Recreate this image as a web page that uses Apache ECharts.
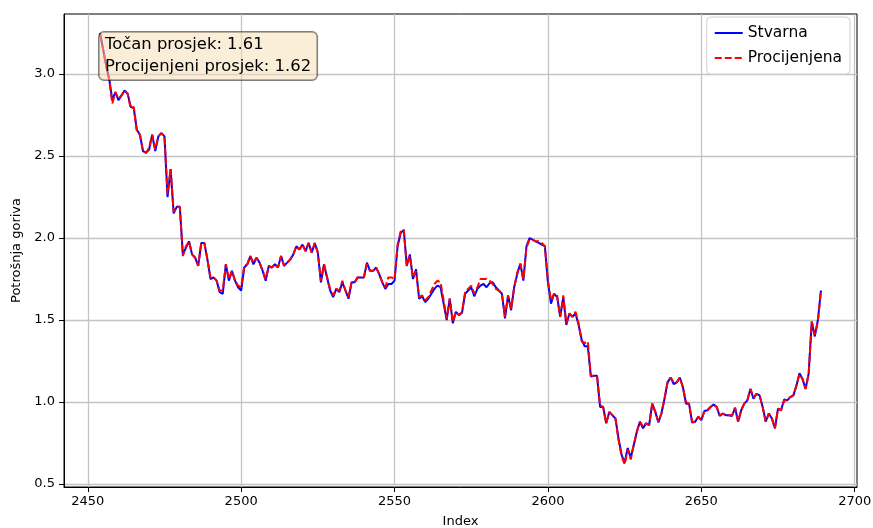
<!DOCTYPE html>
<html>
<head>
<meta charset="utf-8">
<script src="https://cdn.jsdelivr.net/npm/echarts@6/dist/echarts.min.js"></script>
<style>
html,body{margin:0;padding:0;background:#fff;}
#c{width:873px;height:528px;}
</style>
</head>
<body>
<div id="c"></div>
<script>
const startIndex = 2454;
const actual = [
3.25, 3.15, 3.05, 2.97, 2.84, 2.89, 2.84, 2.87, 2.90, 2.88,
2.80, 2.79, 2.66, 2.63, 2.53, 2.52, 2.54, 2.63, 2.53, 2.62,
2.64, 2.62, 2.25, 2.42, 2.15, 2.19, 2.19, 1.90, 1.94, 1.98,
1.90, 1.88, 1.83, 1.97, 1.97, 1.87, 1.75, 1.76, 1.74, 1.67,
1.66, 1.84, 1.74, 1.80, 1.74, 1.70, 1.68, 1.82, 1.84, 1.89,
1.84, 1.88, 1.85, 1.80, 1.74, 1.83, 1.82, 1.84, 1.82, 1.89,
1.83, 1.85, 1.87, 1.90, 1.95, 1.93, 1.96, 1.92, 1.97, 1.91,
1.97, 1.91, 1.73, 1.84, 1.76, 1.68, 1.64, 1.69, 1.67, 1.73,
1.68, 1.63, 1.73, 1.73, 1.76, 1.76, 1.76, 1.85, 1.80, 1.80,
1.82, 1.78, 1.73, 1.69, 1.72, 1.72, 1.74, 1.95, 2.03, 2.05,
1.83, 1.90, 1.75, 1.81, 1.63, 1.645, 1.61, 1.63, 1.66, 1.69,
1.71, 1.70, 1.60, 1.50, 1.63, 1.48, 1.55, 1.53, 1.545, 1.66,
1.68, 1.70, 1.645, 1.69, 1.71, 1.72, 1.70, 1.725, 1.73, 1.70,
1.68, 1.66, 1.51, 1.65, 1.56, 1.70, 1.78, 1.845, 1.74, 1.95,
2.00, 1.99, 1.98, 1.97, 1.96, 1.95, 1.73, 1.60, 1.66, 1.64,
1.52, 1.64, 1.47, 1.54, 1.52, 1.54, 1.47, 1.38, 1.34, 1.34,
1.155, 1.16, 1.16, 0.97, 0.97, 0.87, 0.94, 0.92, 0.90, 0.78,
0.68, 0.63, 0.72, 0.66, 0.74, 0.82, 0.88, 0.84, 0.87, 0.86,
0.99, 0.94, 0.875, 0.93, 1.02, 1.12, 1.15, 1.11, 1.12, 1.15,
1.09, 0.99, 0.99, 0.875, 0.88, 0.91, 0.89, 0.945, 0.95, 0.97,
0.985, 0.97, 0.915, 0.93, 0.92, 0.92, 0.915, 0.965, 0.88, 0.95,
0.99, 1.01, 1.08, 1.02, 1.05, 1.04, 0.97, 0.88, 0.93, 0.90,
0.84, 0.96, 0.95, 1.015, 1.01, 1.03, 1.04, 1.10, 1.175, 1.14,
1.08, 1.175, 1.49, 1.40, 1.50, 1.68
];
const predicted = [
3.24, 3.15, 3.05, 2.96, 2.82, 2.89, 2.85, 2.87, 2.90, 2.88,
2.79, 2.80, 2.65, 2.63, 2.53, 2.52, 2.55, 2.63, 2.54, 2.62,
2.64, 2.62, 2.27, 2.42, 2.16, 2.19, 2.19, 1.89, 1.95, 1.98,
1.90, 1.88, 1.83, 1.97, 1.97, 1.87, 1.76, 1.76, 1.74, 1.68,
1.68, 1.84, 1.75, 1.80, 1.74, 1.71, 1.70, 1.83, 1.84, 1.89,
1.85, 1.88, 1.85, 1.80, 1.75, 1.83, 1.82, 1.84, 1.82, 1.89,
1.83, 1.85, 1.87, 1.90, 1.95, 1.93, 1.96, 1.92, 1.97, 1.91,
1.97, 1.91, 1.74, 1.84, 1.76, 1.69, 1.65, 1.69, 1.68, 1.74,
1.68, 1.64, 1.73, 1.73, 1.76, 1.76, 1.76, 1.84, 1.80, 1.80,
1.82, 1.78, 1.73, 1.70, 1.76, 1.76, 1.75, 1.96, 2.04, 2.05,
1.83, 1.89, 1.76, 1.80, 1.64, 1.65, 1.62, 1.64, 1.68, 1.72,
1.74, 1.73, 1.62, 1.51, 1.63, 1.49, 1.55, 1.53, 1.55, 1.67,
1.69, 1.71, 1.66, 1.70, 1.75, 1.75, 1.75, 1.74, 1.72, 1.69,
1.68, 1.66, 1.52, 1.65, 1.57, 1.70, 1.79, 1.84, 1.75, 1.94,
1.99, 1.99, 1.98, 1.98, 1.97, 1.95, 1.74, 1.62, 1.66, 1.65,
1.52, 1.65, 1.48, 1.54, 1.52, 1.55, 1.48, 1.37, 1.36, 1.37,
1.16, 1.16, 1.16, 0.98, 0.97, 0.87, 0.94, 0.92, 0.90, 0.77,
0.67, 0.62, 0.71, 0.65, 0.74, 0.82, 0.88, 0.85, 0.87, 0.86,
0.99, 0.94, 0.88, 0.93, 1.02, 1.12, 1.15, 1.12, 1.12, 1.15,
1.09, 1.00, 0.99, 0.88, 0.88, 0.91, 0.89, 0.945, 0.95, 0.97,
0.985, 0.97, 0.92, 0.93, 0.92, 0.92, 0.92, 0.965, 0.88, 0.95,
0.99, 1.01, 1.08, 1.03, 1.05, 1.04, 0.97, 0.88, 0.93, 0.90,
0.84, 0.96, 0.95, 1.01, 1.01, 1.03, 1.04, 1.10, 1.17, 1.14,
1.08, 1.17, 1.49, 1.41, 1.49, 1.68
];
const xTicks = [2450, 2500, 2550, 2600, 2650, 2700];
const yTicks = [0.5, 1.0, 1.5, 2.0, 2.5, 3.0];
const seriesNames = ['Stvarna', 'Procijenjena'];
const infoLines = ['Točan prosjek: 1.61', 'Procijenjeni prosjek: 1.62'];
const xName = 'Index';
const yName = 'Potrošnja goriva';

const toPairs = arr => arr.map((v, i) => [startIndex + i, v]);
const font = 'DejaVu Sans';

const chart = echarts.init(document.getElementById('c'), null, {renderer: 'canvas'});
chart.setOption({
  animation: false,
  backgroundColor: '#fff',
  textStyle: {fontFamily: font},
  grid: {left: 64, right: 16, top: 14, bottom: 41, show: true, borderColor: '#000', borderWidth: 1,
         backgroundColor: 'transparent', containLabel: false, outerBoundsMode: 'none'},
  xAxis: {
    type: 'value', min: 2442.25, max: 2700.75,
    name: xName, nameLocation: 'middle', nameGap: 28,
    nameTextStyle: {fontSize: 13, color: '#000', fontFamily: font},
    axisLine: {show: true, onZero: false, lineStyle: {color: '#000', width: 1}},
    axisTick: {show: true, length: 5, customValues: xTicks, lineStyle: {color: '#000'}},
    axisLabel: {customValues: xTicks, fontSize: 13, color: '#000', margin: 8, fontFamily: font, formatter: v => String(v), hideOverlap: false},
    splitLine: {show: true, lineStyle: {color: '#c4c4c4', width: 1.3}}
  },
  yAxis: {
    type: 'value', min: 0.482, max: 3.366,
    name: yName, nameLocation: 'middle', nameGap: 34,
    nameTextStyle: {fontSize: 13, color: '#000', fontFamily: font},
    axisLine: {show: true, onZero: false, lineStyle: {color: '#000', width: 1}},
    axisTick: {show: true, length: 5, customValues: yTicks, lineStyle: {color: '#000'}},
    axisLabel: {customValues: yTicks, fontSize: 13, color: '#000', margin: 9, fontFamily: font, formatter: v => v.toFixed(1)},
    splitLine: {show: true, lineStyle: {color: '#c4c4c4', width: 1.3}}
  },
  legend: {
    show: true, orient: 'vertical', right: 23, top: 17,
    backgroundColor: '#fff', borderColor: '#d0d0d0', borderWidth: 1, borderRadius: 4,
    padding: [8, 8, 8, 7], itemGap: 9, itemWidth: 28, itemHeight: 14,
    itemStyle: {opacity: 0},
    lineStyle: {width: 2},
    textStyle: {fontSize: 15.5, color: '#000', fontFamily: font},
    data: seriesNames
  },
  series: [
    {name: seriesNames[0], type: 'line', data: toPairs(actual), symbol: 'none', z: 2,
     lineStyle: {color: '#0000ff', width: 2}, itemStyle: {color: '#0000ff'}},
    {name: seriesNames[1], type: 'line', data: toPairs(predicted), symbol: 'none', z: 3,
     lineStyle: {color: '#ff0000', width: 2, type: [7, 3]}, itemStyle: {color: '#ff0000'}}
  ],
  graphic: [{
    type: 'text', left: 98, top: 31, z: 100,
    style: {
      text: infoLines.join('\n'), fontSize: 16.4, fontFamily: font, fill: '#000', lineHeight: 22,
      backgroundColor: 'rgba(245,222,179,0.5)', borderColor: 'rgba(0,0,0,0.5)', borderWidth: 1,
      borderRadius: 5, padding: [2, 6, 2, 6]
    }
  }]
});
</script>
</body>
</html>
